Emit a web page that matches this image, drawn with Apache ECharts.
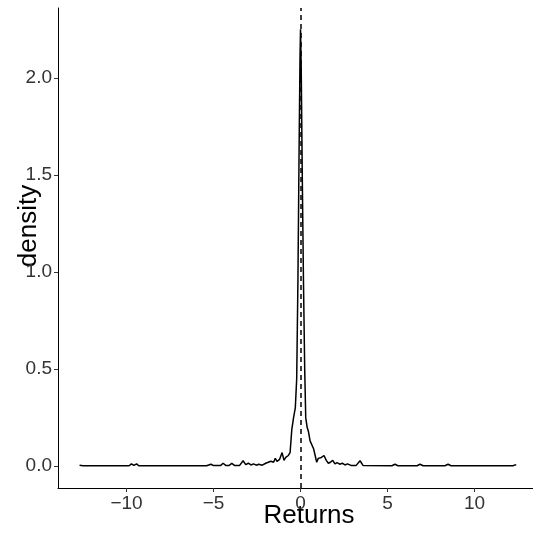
<!DOCTYPE html>
<html>
<head>
<meta charset="utf-8">
<script src="https://cdn.jsdelivr.net/npm/echarts@6/dist/echarts.min.js"></script>
<style>
  html, body { margin: 0; padding: 0; background: #fff; }
  .density { width: 533px; height: 534px; }
</style>
</head>
<body>
<div class="density"></div>
<script>
// 收益率 (x) 与密度 (y)
let returns = [
  -12.7, -12.5, -10.0, -9.85, -9.72, -9.58, -9.42, -9.3,
  -5.4, -5.15, -5.0, -4.6, -4.45, -4.3, -4.1, -3.95, -3.8, -3.5, -3.3, -3.15,
  -3.0, -2.85, -2.7, -2.55, -2.4, -2.2, -2.0, -1.85, -1.7, -1.55, -1.45, -1.35,
  -1.2, -1.06, -0.95, -0.85, -0.7, -0.6, -0.5, -0.4, -0.3, -0.22, -0.15, -0.08,
  -0.03, 0, 0.04, 0.1, 0.17, 0.24, 0.3, 0.38, 0.45, 0.55, 0.65, 0.75, 0.83,
  0.93, 1.02, 1.12, 1.2, 1.35, 1.48, 1.6, 1.72, 1.85, 1.98, 2.1, 2.25, 2.4,
  2.55, 2.7, 2.9, 3.2, 3.42, 3.6, 5.25, 5.43, 5.6, 6.7, 6.87, 7.05, 8.3, 8.48,
  8.65, 12.2, 12.4
];
let density = [
  0.005, 0.002, 0.002, 0.002, 0.012, 0.004, 0.012, 0.002,
  0.002, 0.01, 0.003, 0.003, 0.015, 0.004, 0.004, 0.014, 0.004, 0.004, 0.028, 0.008,
  0.015, 0.006, 0.012, 0.005, 0.01, 0.005, 0.015, 0.02, 0.025, 0.02, 0.04, 0.025,
  0.035, 0.07, 0.03, 0.045, 0.055, 0.07, 0.19, 0.25, 0.3, 0.45, 0.95, 1.65,
  2.1, 2.25, 2.05, 1.5, 0.95, 0.5, 0.25, 0.2, 0.18, 0.13, 0.12, 0.09, 0.1,
  0.02, 0.04, 0.035, 0.045, 0.055, 0.03, 0.015, 0.02, 0.03, 0.012, 0.018, 0.01, 0.015,
  0.006, 0.012, 0.004, 0.004, 0.028, 0.003, 0.002, 0.01, 0.002, 0.002, 0.01, 0.002, 0.002, 0.01,
  0.002, 0.002, 0.008
];
let xTicks = [-10, -5, 0, 5, 10];
let yTicks = [0, 0.5, 1, 1.5, 2];

let points = returns.map((x, i) => [x, density[i]]);

let myChart = echarts.init(document.querySelector('.density'));
let labelStyle = {
  color: '#333',
  fontSize: 19,
  fontFamily: 'Liberation Sans, Arial, sans-serif'
};
let option = {
  animation: false,
  grid: {
    left: 58,
    top: 8,
    width: 480,
    height: 480,
    containLabel: false,
    outerBoundsMode: 'none'
  },
  xAxis: {
    type: 'value',
    min: -13.94,
    max: 13.65,
    name: 'Returns',
    nameLocation: 'middle',
    nameGap: 15,
    nameMoveOverlap: false,
    nameTextStyle: {
      color: '#000',
      fontSize: 26,
      fontFamily: 'Liberation Sans, Arial, sans-serif',
      padding: [0, 0, 0, 22]
    },
    splitLine: { show: false },
    axisLine: { onZero: false, lineStyle: { color: '#000', width: 1 } },
    axisTick: {
      customValues: xTicks,
      length: 4,
      lineStyle: { color: '#333' }
    },
    axisLabel: Object.assign({
      customValues: xTicks,
      margin: 6,
      formatter: v => String(v).replace('-', '\u2212')
    }, labelStyle)
  },
  yAxis: {
    type: 'value',
    min: -0.1125,
    max: 2.36,
    name: 'density',
    nameLocation: 'middle',
    nameGap: 16,
    nameMoveOverlap: false,
    nameTextStyle: {
      color: '#000',
      fontSize: 26,
      fontFamily: 'Liberation Sans, Arial, sans-serif',
      padding: [0, 0, 0, 44]
    },
    splitLine: { show: false },
    axisLine: { show: true, onZero: false, lineStyle: { color: '#000', width: 1 } },
    axisTick: {
      show: true,
      customValues: yTicks,
      length: 4,
      lineStyle: { color: '#333' }
    },
    axisLabel: Object.assign({
      customValues: yTicks,
      margin: 6,
      formatter: v => v.toFixed(1)
    }, labelStyle)
  },
  series: [
    {
      type: 'line',
      data: points,
      symbol: 'none',
      lineStyle: { color: '#000', width: 1.5 },
      markLine: {
        silent: true,
        symbol: 'none',
        label: { show: false },
        lineStyle: { color: '#000', type: [5, 4], width: 1.5 },
        data: [{ xAxis: 0 }]
      }
    }
  ]
};
myChart.setOption(option);
</script>
</body>
</html>
